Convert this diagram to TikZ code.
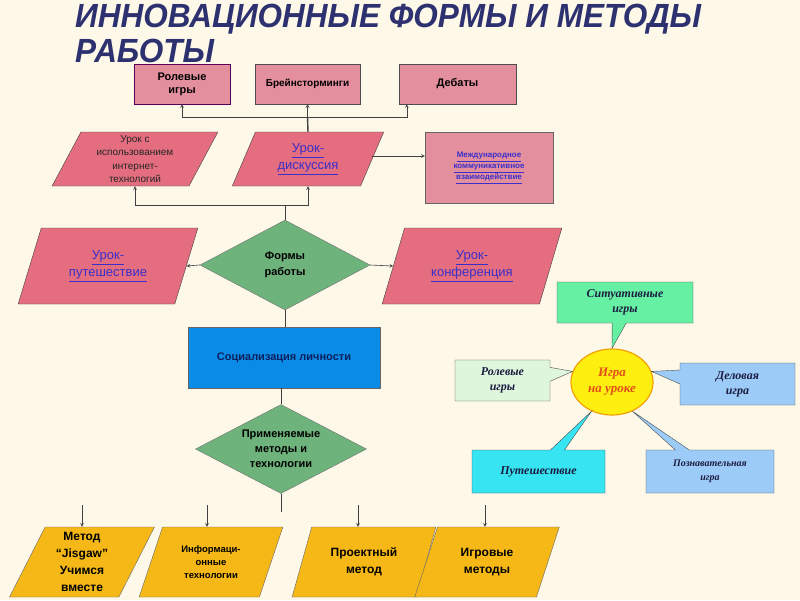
\documentclass[tikz,border=0pt]{standalone}
\usepackage{fontspec}
\setmainfont{Liberation Sans}
\newfontfamily\serifit{Liberation Serif}
\newfontfamily\titlefont[FakeStretch=0.94]{Liberation Sans}
\usetikzlibrary{shapes.geometric,shapes.callouts,positioning}

\definecolor{bgcream}{HTML}{FDF8E8}
\definecolor{titleblue}{HTML}{2D3170}
\definecolor{pinkbox}{HTML}{E48F9E}
\definecolor{redpara}{HTML}{E46E80}
\definecolor{linkblue}{HTML}{3A2FC8}
\definecolor{greendia}{HTML}{6DB37B}
\definecolor{socblue}{HTML}{0A8BE6}
\definecolor{socnavy}{HTML}{0E1F5C}
\definecolor{yellowpara}{HTML}{F6B817}
\definecolor{gameyellow}{HTML}{FFEF10}
\definecolor{gameedge}{HTML}{F2A200}
\definecolor{gametext}{HTML}{E2501A}
\definecolor{mint}{HTML}{66F0A4}
\definecolor{palegreen}{HTML}{DDF6DC}
\definecolor{skyblue}{HTML}{9CCBF8}
\definecolor{cyanbox}{HTML}{36E4F2}
\definecolor{calltext}{HTML}{1C1C40}

\tikzset{
  topbox/.style={draw=black!70, fill=pinkbox, minimum height=40, align=center,
    inner sep=1pt, font=\bfseries\fontsize{11}{13}\selectfont},
  para/.style={trapezium, trapezium left angle=67, trapezium right angle=113,
    trapezium stretches=true, draw=black!75, fill=redpara, align=center, inner sep=1pt},
  yellowbox/.style={para, fill=yellowpara, draw=black!60, minimum width=145, minimum height=70,
    font=\bfseries\fontsize{12}{17}\selectfont},
  dia/.style={diamond, draw=black!55, fill=greendia, align=center, inner sep=0pt,
    font=\bfseries\fontsize{11}{15}\selectfont},
  link/.style={text=linkblue, font=\fontsize{13}{17}\selectfont},
  callbox/.style={rectangle callout, draw=black!70, callout pointer width=14pt, align=center,
    inner sep=2pt, text=calltext, font=\serifit\bfseries\itshape\fontsize{12}{15}\selectfont},
  conn/.style={draw=black!75, line width=0.6pt}
}

\begin{document}
\begin{tikzpicture}[x=1pt,y=-1pt]
  \fill[bgcream] (0,0) rectangle (800,600);
  \useasboundingbox (0,0) rectangle (800,600);

  % title
  \node[anchor=base west,inner sep=0pt,text=titleblue,font=\titlefont\bfseries\itshape\fontsize{33.5}{34}\selectfont] (title1) at (75,27) {ИННОВАЦИОННЫЕ ФОРМЫ И МЕТОДЫ};
  \node[anchor=base west,inner sep=0pt,text=titleblue,font=\titlefont\bfseries\itshape\fontsize{33.5}{34}\selectfont] (title2) at (75,62) {РАБОТЫ};

  % top row
  \node[topbox,draw=violet!70!black,minimum width=96] (rolev) at (182,84) {Ролевые\\игры};
  \node[topbox,minimum width=105,font=\bfseries\fontsize{10}{12}\selectfont] (brain) at (307.5,84) {Брейнсторминги};
  \node[topbox,minimum width=117] (debat) at (457.5,84) {Дебаты};

  % second row
  \node[para,minimum width=166,minimum height=54,text=black!85,font=\fontsize{10}{13.5}\selectfont] (inet) at (135,159) {Урок с\\использованием\\интернет-\\технологий};
  \node[para,minimum width=152,minimum height=54,link] (disc) at (308,159) {\underline{Урок-}\\\underline{дискуссия}};
  \node[draw=black!60,fill=pinkbox,minimum width=128,minimum height=71,align=center,text=linkblue,font=\bfseries\fontsize{8}{11}\selectfont] (intl) at (489,168) {\underline{Международное}\\\underline{коммуникативное}\\\underline{взаимодействие}};

  % third row
  \node[para,minimum width=180,minimum height=76,link] (trip) at (108,266) {\underline{Урок-}\\\underline{путешествие}};
  \node[dia,minimum width=170,minimum height=90,label={[align=center,font=\bfseries\fontsize{11}{16}\selectfont]center:Формы\\работы}] (forms) at (285,265) {};
  \node[para,minimum width=180,minimum height=76,link] (conf) at (472,266) {\underline{Урок-}\\\underline{конференция}};

  \node[draw=black!60,fill=socblue,minimum width=192,minimum height=61,text=socnavy,font=\bfseries\fontsize{11}{13}\selectfont] (social) at (284,357.5) {Социализация личности};
  \node[dia,minimum width=171,minimum height=89,label={[align=center,font=\bfseries\fontsize{11}{15}\selectfont]center:Применяемые\\методы и\\технологии}] (meth) at (281,449) {};

  % bottom row
  \node[yellowbox] (jig) at (82,562) {Метод\\“Jisgaw”\\Учимся\\вместе};
  \node[yellowbox,font=\bfseries\fontsize{9.5}{13}\selectfont] (info) at (211,562) {Информаци-\\онные\\технологии};
  \node[yellowbox] (proj) at (364,562) {Проектный\\метод};
  \node[yellowbox] (games) at (487,562) {Игровые\\методы};

  % game cluster
  \node[ellipse,draw=gameedge,line width=1.2pt,fill=gameyellow,minimum width=82,minimum height=66,align=center,text=gametext,font=\serifit\bfseries\itshape\fontsize{13}{16}\selectfont] (game) at (612,382) {Игра\\на уроке};
  \node[callbox,fill=mint,minimum width=136,minimum height=41,callout absolute pointer={(game.north)}] (situ) at (625,302.5) {Ситуативные\\игры};
  \node[callbox,fill=palegreen,minimum width=95,minimum height=41,callout absolute pointer={(game.165)}] (role) at (502.5,380.5) {Ролевые\\игры};
  \node[callbox,fill=skyblue,minimum width=115,minimum height=42,callout absolute pointer={(game.15)}] (busi) at (737.5,384) {Деловая\\игра};
  \node[callbox,fill=cyanbox,minimum width=133,minimum height=43,callout absolute pointer={(game.235)}] (travel) at (538.5,471.5) {Путешествие};
  \node[callbox,fill=skyblue,minimum width=128,minimum height=43,font=\serifit\bfseries\itshape\fontsize{10}{14}\selectfont,callout absolute pointer={(game.305)}] (cogn) at (710,471.5) {Познавательная\\игра};

  % connectors
  \coordinate (tophub) at (307.5,117);
  \draw[conn,line width=1.4pt] (disc.north) -- (tophub);
  \draw[conn,-stealth] (tophub) -| (rolev.south);
  \draw[conn,-stealth] (tophub) -- (brain.south);
  \draw[conn,-stealth] (tophub) -| ([xshift=8pt]debat.south west);

  \coordinate (formhub) at (285,205);
  \draw[conn] (forms.north) -- (formhub);
  \draw[conn,-stealth] (formhub) -| (inet.south);
  \draw[conn,-stealth] (formhub) -| (disc.south);
  \draw[conn,-stealth] ([yshift=3pt]disc.east) -- ([yshift=3pt]disc.east -| intl.west);

  \draw[conn,-stealth] (forms.west) -- (trip.east);
  \draw[conn,-stealth] (forms.east) -- (conf.west);
  \draw[conn] (forms.south) -- (forms.south |- social.north);
  \draw[conn] (social.south -| meth.north) -- (meth.north);
  \coordinate (methend) at (281,512);
  \draw[conn] (meth.south) -- (methend);

  \foreach \nm/\xx in {jig/82,info/207,proj/358,games/485}{
    \coordinate (\nm top) at (\xx,505);
    \draw[conn,-stealth] (\nm top) -- (\nm top |- \nm.north);
  }
\end{tikzpicture}
\end{document}
